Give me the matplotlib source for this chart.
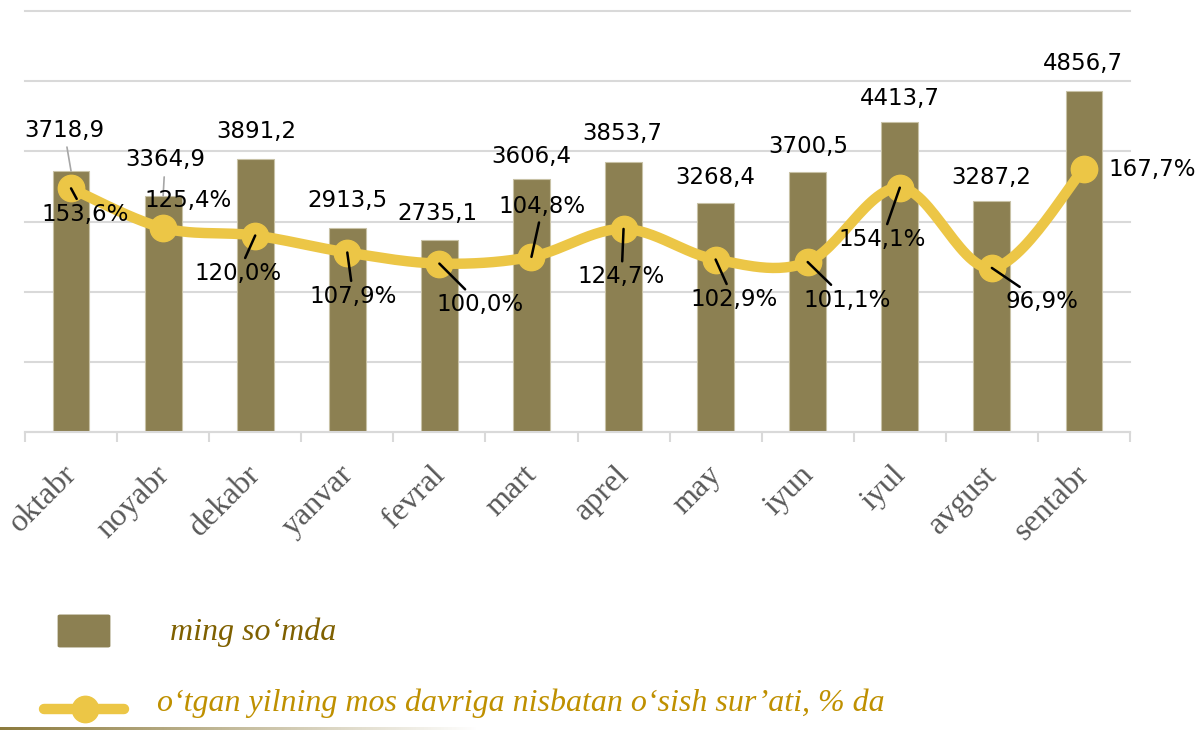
import numpy as np
import matplotlib.pyplot as plt
import matplotlib.transforms as mtransforms
from matplotlib.patches import FancyBboxPatch
from matplotlib.lines import Line2D

months = ['oktabr', 'noyabr', 'dekabr', 'yanvar', 'fevral', 'mart',
          'aprel', 'may', 'iyun', 'iyul', 'avgust', 'sentabr']
sums = [3718.9, 3364.9, 3891.2, 2913.5, 2735.1, 3606.4,
        3853.7, 3268.4, 3700.5, 4413.7, 3287.2, 4856.7]
growth = [153.6, 125.4, 120.0, 107.9, 100.0, 104.8,
          124.7, 102.9, 101.1, 154.1, 96.9, 167.7]
sum_labels = ['3718,9', '3364,9', '3891,2', '2913,5', '2735,1', '3606,4',
              '3853,7', '3268,4', '3700,5', '4413,7', '3287,2', '4856,7']
growth_labels = ['153,6%', '125,4%', '120,0%', '107,9%', '100,0%', '104,8%',
                 '124,7%', '102,9%', '101,1%', '154,1%', '96,9%', '167,7%']

bar_color = '#8c8052'
line_color = '#ecc646'
grid_color = '#d9d9d9'

# label offsets in pixels (dx, dy), Excel-ish placement
bar_off = [(-7, 41), (2, 36), (1, 27), (0, 27), (-2, 27), (0, 22),
           (-1, 28), (0, 25), (1, 26), (0, 24), (-1, 24), (-1, 28)]
bar_leader = [True, True] + [False] * 10
pct_off = [(14, -26), (25, 27), (-17, -38), (6, -44), (41, -41), (11, 50),
           (-2, -48), (18, -40), (39, -38), (-18, -52), (50, -34), (68, -1)]
pct_leader = [True, False, True, True, True, True,
              True, True, True, True, True, False]

fig = plt.figure(figsize=(11.96, 7.3), dpi=100)
W, H = 1196, 730
ax = fig.add_axes([25 / W, 298 / H, 1105 / W, 421 / H])
x = np.arange(len(months))

ax.bar(x, sums, width=0.4, color=bar_color, edgecolor='#c8c2a6', linewidth=0.8, zorder=2)
ax.set_xlim(-0.5, len(months) - 0.5)
ax.set_ylim(0, 6000)
ax.set_yticks(np.arange(0, 6001, 1000))
ax.yaxis.grid(True, color=grid_color, linewidth=1.5, zorder=0)
ax.set_axisbelow(True)
for s in ['left', 'right', 'top']:
    ax.spines[s].set_visible(False)
ax.spines['bottom'].set_color(grid_color)
ax.spines['bottom'].set_linewidth(1.5)
ax.set_xticks(np.arange(-0.5, len(months)), minor=False)
ax.set_xticklabels([])
ax.tick_params(axis='x', which='major', length=7, width=1.5, color=grid_color)
ax.set_xticks(x, minor=True)
ax.set_xticklabels(months, minor=True, rotation=45, ha='right', va='top',
                   rotation_mode='anchor', fontsize=23, color='#595959',
                   family='Liberation Serif')
ax.tick_params(axis='x', which='minor', length=0, pad=8)
shift = mtransforms.ScaledTranslation(-9 / 100, -17 / 100, fig.dpi_scale_trans)
for lab in ax.get_xticklabels(minor=True):
    lab.set_transform(lab.get_transform() + shift)

ax2 = ax.twinx()
ax2.set_ylim(-20, 280)
ax2.axis('off')
ax.tick_params(axis='y', which='both', left=False, right=False,
               labelleft=False, labelright=False)
for gl in ax.get_ygridlines():
    gl.set_clip_on(False)

# smooth curve (Catmull-Rom in screen space, like Excel's smoothed line)
fig.canvas.draw()
pts = ax2.transData.transform(np.column_stack([x, growth]))
P = np.vstack([pts[0], pts, pts[-1]])
curve = []
for i in range(1, len(P) - 2):
    p0, p1, p2, p3 = P[i - 1], P[i], P[i + 1], P[i + 2]
    c1 = p1 + (p2 - p0) / 6
    c2 = p2 - (p3 - p1) / 6
    t = np.linspace(0, 1, 30)[:, None]
    seg = (1 - t) ** 3 * p1 + 3 * (1 - t) ** 2 * t * c1 + 3 * (1 - t) * t ** 2 * c2 + t ** 3 * p2
    curve.append(seg)
curve = ax2.transData.inverted().transform(np.vstack(curve))
ax2.plot(curve[:, 0], curve[:, 1], color=line_color, lw=7.5, solid_capstyle='round', zorder=3)
ax2.plot(x, growth, 'o', color=line_color, markersize=19, zorder=4)

for i in range(len(months)):
    ap = dict(arrowstyle='-', color='#a6a6a6', lw=1.2, shrinkA=2, shrinkB=0) if bar_leader[i] else None
    ax2.annotate(sum_labels[i], xy=(x[i], sums[i]), xycoords=ax.transData,
                 xytext=bar_off[i], textcoords='offset pixels', ha='center', va='center',
                 fontsize=16.5, color='black', arrowprops=ap, zorder=6)
    ap = dict(arrowstyle='-', color='black', lw=1.8, shrinkA=1, shrinkB=0) if pct_leader[i] else None
    ax2.annotate(growth_labels[i], xy=(x[i], growth[i]), xytext=pct_off[i],
                 textcoords='offset pixels', ha='center', va='center',
                 fontsize=16.5, color='black', arrowprops=ap, zorder=6)

# legend drawn by hand in figure pixels
fig.patches.append(FancyBboxPatch((60 / W, (H - 646) / H), 48 / W, 30 / H,
                                  boxstyle='round,pad=0.002', transform=fig.transFigure,
                                  facecolor=bar_color, edgecolor='none'))
fig.text(170 / W, (H - 632) / H, 'ming so\u2018mda', fontsize=23, style='italic',
         family='Liberation Serif', color='#7f6000', va='center')
fig.lines.append(Line2D([44 / W, 124 / W], [(H - 709) / H] * 2, transform=fig.transFigure,
                        color=line_color, lw=7.5, solid_capstyle='round'))
fig.lines.append(Line2D([85 / W], [(H - 709) / H], transform=fig.transFigure, marker='o',
                        color=line_color, markersize=19))
fig.text(157 / W, (H - 703) / H, 'o\u2018tgan yilning mos davriga nisbatan o\u2018sish sur\u2019ati, % da',
         fontsize=23, style='italic', family='Liberation Serif', color='#bf9000', va='center')

# fading rule at the bottom
gax = fig.add_axes([0, 0, 0.4, 3 / H])
grad = np.zeros((1, 256, 4))
grad[..., :3] = np.array([139, 122, 60]) / 255
grad[..., 3] = np.linspace(1, 0, 256)
gax.imshow(grad, aspect='auto')
gax.axis('off')

fig.savefig('out.png', dpi=100)
